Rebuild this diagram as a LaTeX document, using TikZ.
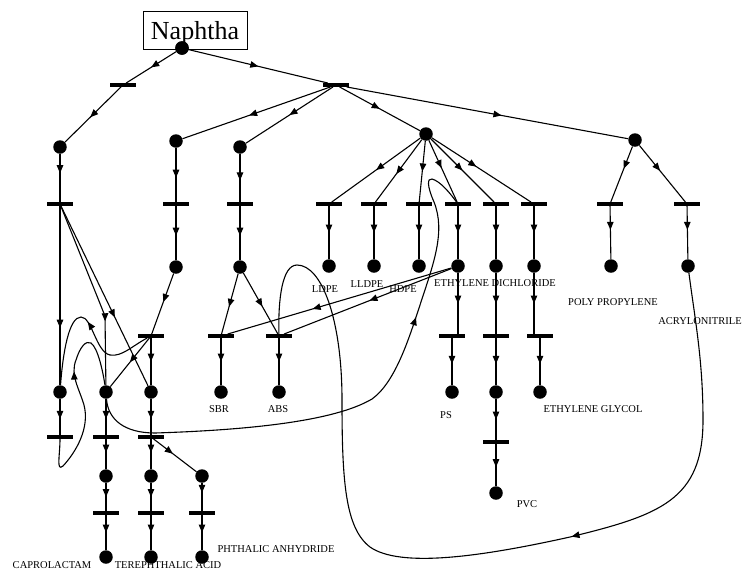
\documentclass[tikz,border=0pt]{standalone}
\usepackage{fontspec}
\setmainfont{Liberation Serif}
\usetikzlibrary{arrows.meta,decorations.markings}
\begin{document}
\begin{tikzpicture}[x=1pt,y=-1pt,
  place/.style={circle, fill=black, minimum size=13.5pt, inner sep=0pt},
  trans/.style={rectangle, fill=black, minimum width=26pt, minimum height=3.5pt, inner sep=0pt},
  lbl/.style={font=\fontsize{10.5}{12}\selectfont, inner sep=0pt},
  ln/.style={line width=1.1pt},
  ma/.style={postaction={decorate}, decoration={markings, mark=at position #1 with {\arrow{Triangle[length=8pt,width=6.5pt]}}}},
  ma/.default=0.55]
\useasboundingbox (0,0) rectangle (744,571);

% Naphtha box
\node[draw, line width=0.8pt, minimum width=104pt, minimum height=38pt, inner sep=0pt] (nbox) at (195,30) {};
\node[font=\fontsize{26}{30}\selectfont, inner sep=0pt] (ntext) at (195,33) {Naphtha};

% places
\node[place] (p0) at (182,48) {};
\node[place] (pa1) at (60,147) {};
\node[place] (pa2) at (176,141) {};
\node[place] (pa3) at (240,147) {};
\node[place] (pc) at (426,134) {};
\node[place] (pr) at (635,140) {};

\node[place] (pb2) at (176,267) {};
\node[place] (pb3) at (240,267) {};
\node[place] (pLDPE) at (329,266) {};
\node[place] (pLLDPE) at (374,266) {};
\node[place] (pHDPE) at (419,266) {};
\node[place] (pEth) at (458,266) {};
\node[place] (pEDC) at (496,266) {};
\node[place] (pb6) at (534,266) {};
\node[place] (pPP) at (611,266) {};
\node[place] (pAcr) at (688,266) {};

\node[place] (pe1) at (60,392) {};
\node[place] (pe2) at (106,392) {};
\node[place] (pe3) at (151,392) {};
\node[place] (pSBR) at (221,392) {};
\node[place] (pABS) at (279,392) {};
\node[place] (pPS) at (452,392) {};
\node[place] (pe5) at (496,392) {};
\node[place] (pEG) at (540,392) {};

\node[place] (pg2) at (106,476) {};
\node[place] (pg3) at (151,476) {};
\node[place] (pg4) at (202,476) {};
\node[place] (pPVC) at (496,493) {};

\node[place] (pCap) at (106,557) {};
\node[place] (pTer) at (151,557) {};
\node[place] (pPht) at (202,557) {};

% transitions
\node[trans] (t1) at (123,85) {};
\node[trans] (t2) at (336,85) {};
\node[trans] (ta1) at (60,204) {};
\node[trans] (ta2) at (176,204) {};
\node[trans] (ta3) at (240,204) {};
\node[trans] (tc1) at (329,204) {};
\node[trans] (tc2) at (374,204) {};
\node[trans] (tc3) at (419,204) {};
\node[trans] (tc4) at (458,204) {};
\node[trans] (tc5) at (496,204) {};
\node[trans] (tc6) at (534,204) {};
\node[trans] (tr1) at (610,204) {};
\node[trans] (tr2) at (687,204) {};

\node[trans] (td1) at (151,336) {};
\node[trans] (tSBR) at (221,336) {};
\node[trans] (tABS) at (279,336) {};
\node[trans] (tPS) at (452,336) {};
\node[trans] (td5) at (496,336) {};
\node[trans] (td6) at (540,336) {};

\node[trans] (tf1) at (60,437) {};
\node[trans] (tf2) at (106,437) {};
\node[trans] (tf3) at (151,437) {};
\node[trans] (tf5) at (496,442) {};

\node[trans] (th2) at (106,513) {};
\node[trans] (th3) at (151,513) {};
\node[trans] (th4) at (202,513) {};

\coordinate (c1) at (105,316);

% top arcs
\draw[ln, ma=0.5] (p0) -- (t1);
\draw[ln, ma=0.55] (t1) -- (pa1);
\draw[ln, ma=0.5] (p0) -- (t2);
\draw[ln, ma=0.55] (t2) -- (pa2);
\draw[ln, ma=0.5] (t2) -- (pa3);
\draw[ln, ma=0.5] (t2) -- (pc);
\draw[ln, ma=0.55] (t2) -- (pr);

\draw[ln, ma=0.5] (pc) -- (tc1);
\draw[ln, ma=0.55] (pc) -- (tc2);
\draw[ln, ma=0.5] (pc) -- (tc3);
\draw[ln, ma=0.45] (pc) -- (tc4);
\draw[ln, ma=0.5] (pc) -- (tc5);
\draw[ln, ma=0.45] (pc) -- (tc6);
\draw[ln, ma=0.4] (pr) -- (tr1);
\draw[ln, ma=0.45] (pr) -- (tr2);

\draw[ln, ma=0.4] (pa1) -- (ta1);
\draw[ln, ma=0.55] (pa2) -- (ta2);
\draw[ln, ma=0.55] (pa3) -- (ta3);
\draw[ln, ma=0.55] (ta2) -- (pb2);
\draw[ln, ma=0.55] (ta3) -- (pb3);
\draw[ln, ma=0.5] (tc1) -- (pLDPE);
\draw[ln, ma=0.5] (tc2) -- (pLLDPE);
\draw[ln, ma=0.5] (tc3) -- (pHDPE);
\draw[ln, ma=0.5] (tc4) -- (pEth);
\draw[ln, ma=0.5] (tc5) -- (pEDC);
\draw[ln, ma=0.5] (tc6) -- (pb6);
\draw[ln, ma=0.45] (tr1) -- (pPP);
\draw[ln, ma=0.45] (tr2) -- (pAcr);

% left column
\draw[ln, ma=0.68] (ta1) -- (pe1);
\draw[ln, ma=0.66] (ta1) -- (c1) -- (pe2);
\draw[ln, ma=0.62] (ta1) -- (pe3);
\draw[ln, ma=0.47] (pb2) -- (td1);
\draw[ln, ma=0.5] (td1) -- (pe3);
\draw[ln, ma=0.5] (td1) -- (pe2);

\draw[ln, ma=0.55] (pb3) -- (tSBR);
\draw[ln, ma=0.55] (pb3) -- (tABS);
\draw[ln, ma=0.62] (pEth) -- (tSBR);
\draw[ln, ma=0.49] (pEth) -- (tABS);
\draw[ln, ma=0.5] (tSBR) -- (pSBR);
\draw[ln, ma=0.5] (tABS) -- (pABS);

\draw[ln, ma=0.5] (pEth) -- (pEth |- tPS.north);
\draw[ln, ma=0.55] (tPS) -- (pPS);
\draw[ln, ma=0.5] (pEDC) -- (td5);
\draw[ln, ma=0.55] (td5) -- (pe5);
\draw[ln, ma=0.5] (pe5) -- (tf5);
\draw[ln, ma=0.55] (tf5) -- (pPVC);
\draw[ln, ma=0.5] (pb6) -- (pb6 |- td6.north);
\draw[ln, ma=0.55] (td6) -- (pEG);

\draw[ln, ma=0.55] (pe1) -- (tf1);
\draw[ln, ma=0.55] (pe2) -- (tf2);
\draw[ln, ma=0.55] (pe3) -- (tf3);
\draw[ln, ma=0.45] (tf2) -- (pg2);
\draw[ln, ma=0.45] (tf3) -- (pg3);
\draw[ln, ma=0.45] (tf3) -- (pg4);
\draw[ln, ma=0.5] (pg2) -- (th2);
\draw[ln, ma=0.5] (pg3) -- (th3);
\draw[ln, ma=0.35] (pg4) -- (th4);
\draw[ln, ma=0.5] (th2) -- (pCap);
\draw[ln, ma=0.5] (th3) -- (pTer);
\draw[ln, ma=0.5] (th4) -- (pPht);

% curves
\draw[ln, ma=0.5] (td1) .. controls (132,346) and (122,357) .. (110,355)
  .. controls (96,352) and (92,317) .. (81,317)
  .. controls (69,317) and (63,352) .. (pe1);
\draw[ln, ma=0.62] (tf1) .. controls (60,455) and (56,472) .. (63,466)
  .. controls (76,452) and (90,428) .. (84,405)
  .. controls (79,388) and (70,375) .. (76,360)
  .. controls (80,347) and (86,340) .. (91,343)
  .. controls (98,348) and (103,372) .. (pe2);
\draw[ln, ma=0.68] (pe2) .. controls (108,420) and (125,433) .. (155,433)
  .. controls (250,430) and (335,421) .. (372,399)
  .. controls (396,382) and (410,335) .. (420,305)
  .. controls (433,265) and (446,232) .. (434,202)
  .. controls (427,186) and (427,178) .. (432,179)
  .. controls (440,181) and (450,193) .. (tc4);
\draw[ln, ma=0.37] (pAcr) .. controls (695,320) and (703,360) .. (703,420)
  .. controls (703,500) and (660,515) .. (570,537)
  .. controls (480,557) and (400,568) .. (370,547)
  .. controls (345,528) and (342,480) .. (342,400)
  .. controls (342,320) and (322,265) .. (297,265)
  .. controls (282,265) and (278,300) .. (tABS);

% redraw place over the box edge
\node[place] at (p0) {};

% labels
\node[lbl] (lLDPE) at (325,289) {LDPE};
\node[lbl] (lLLDPE) at (367,284) {LLDPE};
\node[lbl] (lHDPE) at (403,289) {HDPE};
\node[lbl] (lEDC) at (495,283) {ETHYLENE DICHLORIDE};
\node[lbl] (lPP) at (613,302) {POLY PROPYLENE};
\node[lbl] (lAcr) at (700,321) {ACRYLONITRILE};
\node[lbl] (lSBR) at (219,409) {SBR};
\node[lbl] (lABS) at (278,409) {ABS};
\node[lbl] (lPS) at (446,415) {PS};
\node[lbl] (lEG) at (593,409) {ETHYLENE GLYCOL};
\node[lbl] (lPVC) at (527,504) {PVC};
\node[lbl] (lCap) at (52,565) {CAPROLACTAM};
\node[lbl] (lTer) at (168,565) {TEREPHTHALIC ACID};
\node[lbl] (lPht) at (276,549) {PHTHALIC ANHYDRIDE};
\end{tikzpicture}
\end{document}
